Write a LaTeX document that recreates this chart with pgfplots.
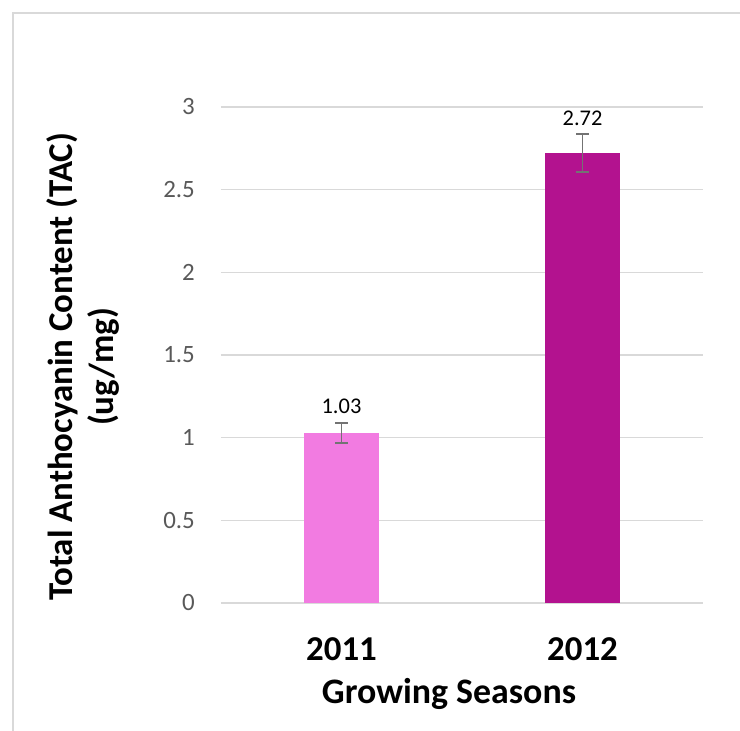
\documentclass[border=0pt]{standalone}
\usepackage{fontspec}
\setmainfont{Carlito}
\usepackage{pgfplots}
\pgfplotsset{compat=1.18}
\definecolor{barA}{HTML}{F27BE1}
\definecolor{barB}{HTML}{B3128F}
\definecolor{gridc}{HTML}{D9D9D9}
\definecolor{tickc}{HTML}{595959}
\definecolor{errc}{HTML}{737373}
\begin{document}
\begin{tikzpicture}[x=1bp,y=1bp]
\path[use as bounding box] (-221,-128) rectangle (519,603);
\draw[gridc, line width=2.5bp] (-208,-135) -- (-208,590) -- (530,590);
\begin{axis}[
  at={(0,0)}, anchor=south west,
  scale only axis, width=482bp, height=496bp,
  xmin=-0.5, xmax=1.5, ymin=0, ymax=3,
  ytick={0,0.5,1,1.5,2,2.5,3},
  xtick={0,1}, xticklabels={2011,2012},
  axis line style={draw=none},
  major tick length=0pt,
  ymajorgrids, grid style={gridc, line width=1.5bp},
  /pgf/number format/assume math mode=true,
  yticklabel style={font=\fontsize{25}{30}\selectfont, color=tickc, anchor=east, inner sep=0pt, xshift=-26bp},
  xticklabel style={font=\fontsize{35}{42}\selectfont\bfseries, anchor=base, inner sep=0pt, yshift=-57bp},
  clip=false,
]
\addplot[ybar, bar shift=0pt, bar width=0.315, fill=barA, draw=none,
  error bars/.cd, y dir=both, y explicit, error mark=-,
  error bar style={errc, line width=1.8bp},
  error mark options={errc, line width=1.8bp, mark size=6.3bp, rotate=90}]
  coordinates {(0,1.03) +- (0,0.06)};
\addplot[ybar, bar shift=0pt, bar width=0.315, fill=barB, draw=none,
  error bars/.cd, y dir=both, y explicit, error mark=-,
  error bar style={errc, line width=1.8bp},
  error mark options={errc, line width=1.8bp, mark size=6.3bp, rotate=90}]
  coordinates {(1,2.72) +- (0,0.115)};
\node[anchor=base, yshift=9bp, font=\fontsize{22.5}{27}\selectfont] at (axis cs:0,1.09) {1.03};
\node[anchor=base, yshift=9bp, font=\fontsize{22.5}{27}\selectfont] at (axis cs:1,2.835) {2.72};
\end{axis}
\node[anchor=base, font=\fontsize{36}{43}\selectfont\bfseries] at (228,-100) {Growing Seasons};
\node[rotate=90, anchor=base, font=\fontsize{35}{42}\selectfont\bfseries] at (-148,236) {Total Anthocyanin Content (TAC)};
\node[rotate=90, anchor=base, font=\fontsize{35}{42}\selectfont\bfseries] at (-107,236) {(ug/mg)};
\end{tikzpicture}
\end{document}
